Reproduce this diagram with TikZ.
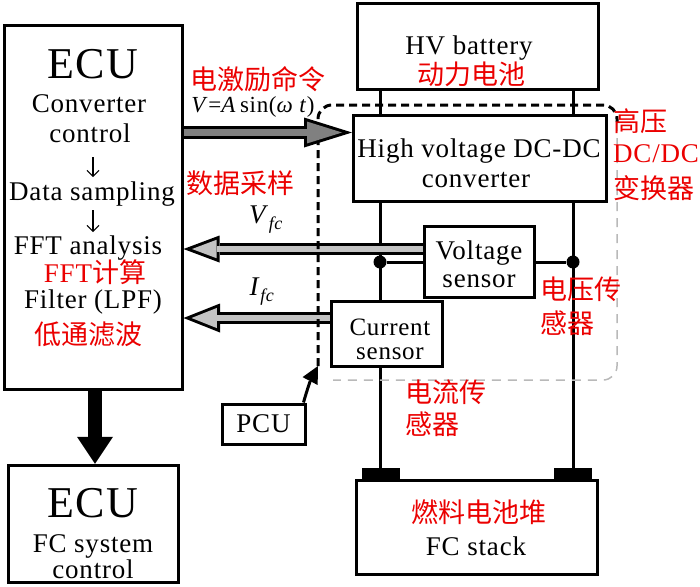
\documentclass[tikz,border=0pt]{standalone}
\usepackage{fontspec}
\setmainfont{Liberation Serif}[LetterSpace=3]
\newfontfamily\cjk{Noto Sans CJK SC}
\usetikzlibrary{arrows.meta,positioning,calc}
\definecolor{cmdgray}{RGB}{128,128,128}
\definecolor{siggray}{RGB}{195,195,195}
\definecolor{cnred}{RGB}{235,0,0}
\tikzstyle{block} = [rectangle, draw=black, line width=3pt, fill=white, inner sep=0pt]
\tikzstyle{txt} = [inner sep=0pt, font=\fontsize{27}{30}\selectfont]
\tikzstyle{bigtxt} = [inner sep=0pt, font=\fontsize{44}{48}\selectfont]
\tikzstyle{cntxt} = [inner sep=0pt, text=cnred, font=\fontsize{27}{30}\selectfont\cjk]
\tikzstyle{steparrow} = [line width=1.1pt, -{Straight Barb[length=6pt,width=12pt,line width=1.1pt]}]
\tikzstyle{bus} = [line width=3pt]
\tikzstyle{dot} = [circle, fill=black, inner sep=0pt, minimum size=13pt]
\tikzstyle{terminal} = [rectangle, fill=black, inner sep=0pt, minimum width=38pt, minimum height=12pt]
\tikzstyle{ctrl} = [line width=3pt, dash pattern=on 8pt off 5pt, rounded corners=14pt]
\tikzstyle{ctrlgray} = [line width=1.5pt, gray!55, dash pattern=on 9pt off 7pt, rounded corners=14pt]

\begin{document}
\begin{tikzpicture}[x=1pt, y=-1pt]
\useasboundingbox (0,0) rectangle (700,586);

% ECU nodes
\node (ecu) [block, minimum width=178, minimum height=364] at (93,207.5) {};
\node (ecufc) [block, minimum width=170, minimum height=117.5] at (93,524) {};

% Converter side
\node (hvbat) [block, minimum width=241, minimum height=85] at (478,46.5) {};
\node (dcdc) [block, minimum width=253, minimum height=86] at (480,158.5) {};
\node (stack) [block, minimum width=241.5, minimum height=94] at (477,527.5) {};
\node (pcu) [block, txt, minimum width=83, minimum height=40] at (263.5,424) {PCU};

% HV bus
\coordinate (busl) at (380,0);
\coordinate (busr) at (573,0);
\draw[bus] (hvbat.south -| busl) -- (dcdc.north -| busl);
\draw[bus] (hvbat.south -| busr) -- (dcdc.north -| busr);
\draw[bus] (dcdc.south -| busl) -- (stack.north -| busl);
\draw[bus] (dcdc.south -| busr) -- (stack.north -| busr);
\node (terml) [terminal] at (381,474) {};
\node (termr) [terminal] at (572.5,474) {};

% Sensors
\node (vsens) [block, minimum width=110, minimum height=71] at (479.5,262) {};
\node (csens) [block, minimum width=111.5, minimum height=65.5] at (387,334) {};
\node (dotl) [dot] at (busl |- vsens.west) {};
\node (dotr) [dot] at (busr |- vsens.east) {};
\draw[bus] (dotl) -- (vsens.west);
\draw[bus] (vsens.east) -- (dotr);

% Measured signals back to ECU
\coordinate (vfcstart) at ([yshift=13pt]vsens.west);
\coordinate (ifcstart) at ([yshift=16pt]csens.west);
\draw[line width=12pt, -{Triangle[length=36pt,width=27pt,line width=0pt]}] (vfcstart) -- (vfcstart -| ecu.east);
\draw[line width=6pt, siggray, shorten >=8.5pt, -{Triangle[length=24.5pt,width=18.4pt,line width=0pt]}] (vfcstart) -- (vfcstart -| ecu.east);
\draw[line width=12pt, -{Triangle[length=36.5pt,width=29pt,line width=0pt]}] (ifcstart) -- (ifcstart -| ecu.east);
\draw[line width=6pt, siggray, shorten >=8pt, -{Triangle[length=25.4pt,width=20.2pt,line width=0pt]}] (ifcstart) -- (ifcstart -| ecu.east);

% PCU control boundary
\coordinate (pcutip) at (318,366);
\coordinate (boxne) at (617,105);
\coordinate (boxe) at (617,122);
\coordinate (boxsw) at (333,380);
\draw[line width=3pt, -{Triangle[length=17pt,width=17pt,line width=0pt]}] ([xshift=-3pt]pcu.north east) to[bend left=6] (pcutip);
\draw[ctrl] (pcutip) |- (boxne) -- (boxe);
\draw[ctrlgray] (boxe) |- (boxsw);

% Excitation command
\coordinate (cmdend) at ([yshift=26pt]dcdc.west);
\draw[line width=13pt, -{Triangle[length=48pt,width=30pt,line width=0pt]}] (ecu.east |- cmdend) -- (cmdend);
\draw[line width=7pt, cmdgray, shorten >=10pt, -{Triangle[length=35pt,width=21.9pt,line width=0pt]}] (ecu.east |- cmdend) -- (cmdend);

% ECU to FC system control
\draw[line width=14pt, -{Triangle[length=27pt,width=36pt,line width=0pt]}] ([xshift=2pt]ecu.south) -- ([xshift=2pt]ecufc.north);

% ECU labels
\coordinate (flowx) at (93,0);
\node (tecu) [bigtxt, anchor=base] at (93,78) {ECU};
\node (tconv) [txt, anchor=base] at (89,112) {Converter};
\node (tctrl) [txt, anchor=base] at (90,142) {control};
\node (tsamp) [txt, anchor=base] at (92,200) {Data sampling};
\node (tfft) [txt, anchor=base] at (88,254) {FFT analysis};
\node (tfftcn) [txt, text=cnred, anchor=base] at (95,282) {FFT{\cjk 计算}};
\node (tlpf) [txt, anchor=base] at (93,308) {Filter (LPF)};
\node (tlpfcn) [cntxt] at (88,334) {低通滤波};
\node (tecufc) [bigtxt, anchor=base] at (93,517) {ECU};
\node (tfcsys) [txt, anchor=base] at (93,552) {FC system};
\node (tfcctrl) [txt, anchor=base] at (93,578) {control};
\draw[steparrow, shorten <=15pt, shorten >=4pt] (tctrl.south -| flowx) -- (tsamp.north -| flowx);
\draw[steparrow, shorten <=4pt, shorten >=3pt] (tsamp.south -| flowx) -- (tfft.north -| flowx);

% Signal labels
\node (tcmdcn) [cntxt] at (258,79) {电激励命令};
\node (tcmd) [inner sep=0pt, font=\fontsize{23}{26}\selectfont, anchor=base] at (253,112) {\textit{V}=\textit{A}\,sin(\textit{ω t})};
\node (tsampcn) [cntxt] at (240,183) {数据采样};
\node (tvfc) [txt, anchor=base] at (266,223) {\textit{V}\raisebox{-6pt}{\fontsize{18}{18}\selectfont\textit{fc}}};
\node (tifc) [txt, anchor=base] at (262,295) {\textit{I}\raisebox{-6pt}{\fontsize{18}{18}\selectfont\textit{fc}}};

% Converter side labels
\node (tbat) [txt, anchor=base] at (469,55) {HV battery};
\node (tbatcn) [cntxt] at (471,74) {动力电池};
\node (tdcdc) [txt, anchor=base] at (479,157) {High voltage DC-DC};
\node (tdcdc2) [txt, anchor=base] at (476,187) {converter};
\node (tdcdccn1) [cntxt, anchor=west] at (613,121) {高压};
\node (tdcdccn2) [txt, text=cnred, anchor=base west] at (613,162) {DC/DC};
\node (tdcdccn3) [cntxt, anchor=west] at (613,188) {变换器};
\node (tvs1) [txt, anchor=base] at (479,259) {Voltage};
\node (tvs2) [txt, anchor=base] at (479,287) {sensor};
\node (tcs1) [txt, font=\fontsize{25}{28}\selectfont, anchor=base] at (390,335) {Current};
\node (tcs2) [txt, font=\fontsize{25}{28}\selectfont, anchor=base] at (390,359) {sensor};
\node (tvscn1) [cntxt, anchor=west] at (540,289) {电压传};
\node (tvscn2) [cntxt, anchor=west] at (540,323) {感器};
\node (tcscn1) [cntxt, anchor=west] at (405,392) {电流传};
\node (tcscn2) [cntxt, anchor=west] at (405,424) {感器};
\node (tstackcn) [cntxt] at (479,512) {燃料电池堆};
\node (tstack) [txt, anchor=base] at (476,555) {FC stack};
\end{tikzpicture}
\end{document}
